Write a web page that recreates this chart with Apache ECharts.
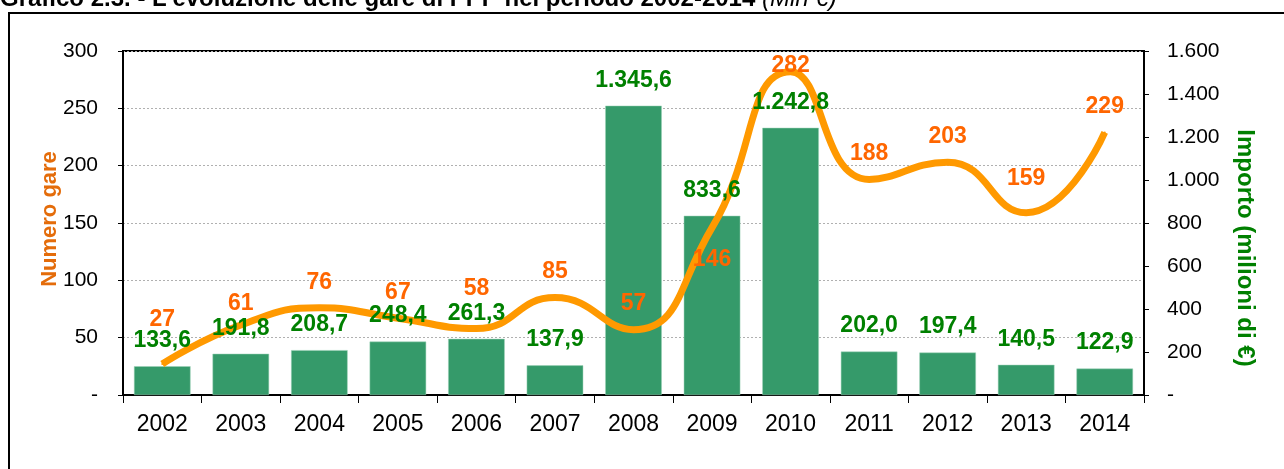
<!DOCTYPE html>
<html>
<head>
<meta charset="utf-8">
<script src="https://cdn.jsdelivr.net/npm/echarts@6/dist/echarts.min.js"></script>
<style>
	html, body { margin: 0; padding: 0; background: #fff; }
	#main { width: 1284px; height: 469px; }
</style>
</head>
<body>
<div id="main"></div>
<script>
	// dati del grafico
	var anni = ['2002', '2003', '2004', '2005', '2006', '2007', '2008', '2009', '2010', '2011', '2012', '2013', '2014'];
	var numeroGare = [27, 61, 76, 67, 58, 85, 57, 146, 282, 188, 203, 159, 229];
	var importo = [133.6, 191.8, 208.7, 248.4, 261.3, 137.9, 1345.6, 833.6, 1242.8, 202.0, 197.4, 140.5, 122.9];

	var FONT = '"Liberation Sans", Arial, sans-serif';

	// formato italiano: 1.345,6
	function fmtIt(v, dec) {
		if (v === 0) return '-';
		var s = v.toFixed(dec);
		var parts = s.split('.');
		var intPart = parts[0].replace(/\B(?=(\d{3})+(?!\d))/g, '.');
		return parts.length > 1 ? intPart + ',' + parts[1] : intPart;
	}

	// etichette della linea spostate a mano come nell'originale (indice -> distanza)
	var spostaEtichette = { 0: 32, 1: 9, 4: 27, 8: -7, 11: 22 };
	var gareData = numeroGare.map(function (v, i) {
		var item = { value: v };
		if (i === 7) {
			item.label = { position: 'bottom', distance: 20 };
		} else if (spostaEtichette[i] !== undefined) {
			item.label = { distance: spostaEtichette[i] };
		}
		return item;
	});

	var myChart = echarts.init(document.getElementById('main'));
	var option = {
		animation: false,
		textStyle: { fontFamily: FONT },
		graphic: [
			{
				type: 'text',
				left: 0,
				top: -13,
				style: {
					text: '{b|Grafico 2.3. - L\'evoluzione delle gare di PPP nel periodo 2002-2014 }{i|(Mln €)}',
					rich: {
						b: { fontFamily: FONT, fontSize: 24, fontWeight: 'bold', fill: '#000' },
						i: { fontFamily: FONT, fontSize: 24, fontStyle: 'italic', fill: '#000' }
					}
				}
			},
			{
				type: 'rect',
				shape: { x: 9, y: 13, width: 1300, height: 500 },
				style: { fill: 'none', stroke: '#000', lineWidth: 2 }
			},
			{
				type: 'text',
				x: 50,
				y: 219,
				rotation: Math.PI / 2,
				style: {
					text: 'Numero gare',
					fontFamily: FONT, fontSize: 22, fontWeight: 'bold',
					fill: '#E46C0A', align: 'center', verticalAlign: 'middle'
				}
			},
			{
				type: 'text',
				x: 1245,
				y: 248,
				rotation: -Math.PI / 2,
				style: {
					text: 'Importo (milioni di €)',
					fontFamily: FONT, fontSize: 24, fontWeight: 'bold',
					fill: '#008000', align: 'center', verticalAlign: 'middle'
				}
			}
		],
		grid: {
			left: 123,
			right: 140,
			top: 51,
			bottom: 74,
			show: true,
			borderColor: '#000',
			borderWidth: 2
		},
		xAxis: {
			type: 'category',
			data: anni,
			axisLine: { lineStyle: { color: '#000', width: 2 } },
			axisTick: { show: true, length: 8, lineStyle: { color: '#000' } },
			axisLabel: { color: '#000', fontSize: 23, margin: 18, fontFamily: FONT }
		},
		yAxis: [
			{
				type: 'value',
				min: 0,
				max: 300,
				interval: 50,
				axisLine: { show: true, lineStyle: { color: '#000', width: 2 } },
				axisTick: { show: true, length: 5, lineStyle: { color: '#000' } },
				axisLabel: {
					color: '#000', fontSize: 21, margin: 25, fontFamily: FONT,
					formatter: function (v) { return fmtIt(v, 0); }
				},
				splitLine: { show: true, lineStyle: { color: '#b0b0b0', type: [2, 2], width: 1 } }
			},
			{
				type: 'value',
				min: 0,
				max: 1600,
				interval: 200,
				position: 'right',
				axisLine: { show: true, lineStyle: { color: '#000', width: 2 } },
				axisTick: { show: true, length: 5, lineStyle: { color: '#000' } },
				axisLabel: {
					color: '#000', fontSize: 21, margin: 23, fontFamily: FONT,
					formatter: function (v) { return fmtIt(v, 0); }
				},
				splitLine: { show: false }
			}
		],
		series: [
			{
				name: 'Importo',
				type: 'bar',
				yAxisIndex: 1,
				barWidth: '72%',
				barGap: '-100%',
				data: importo,
				z: 2,
				itemStyle: { color: '#359A6A', borderColor: '#9fd3b8', borderWidth: 0.5 }
			},
			{
				name: 'Numero gare',
				type: 'line',
				yAxisIndex: 0,
				data: gareData,
				smooth: 0.5,
				symbol: 'circle',
				symbolSize: 2,
				z: 3,
				itemStyle: { color: '#FF9900' },
				lineStyle: { color: '#FF9900', width: 7 },
				label: {
					show: true,
					position: 'top',
					distance: 13,
					color: '#FF6600',
					fontSize: 23,
					fontWeight: 'bold',
					fontFamily: FONT
				}
			},
			{
				// solo etichette delle barre, sopra la linea
				name: 'Importo etichette',
				type: 'bar',
				yAxisIndex: 1,
				barWidth: '72%',
				barGap: '-100%',
				data: importo,
				z: 4,
				silent: true,
				itemStyle: { color: 'rgba(0,0,0,0)' },
				label: {
					show: true,
					position: 'top',
					distance: 14,
					color: '#008000',
					fontSize: 23,
					fontWeight: 'bold',
					fontFamily: FONT,
					formatter: function (p) { return fmtIt(p.value, 1); }
				}
			}
		]
	};
	myChart.setOption(option);
</script>
</body>
</html>
